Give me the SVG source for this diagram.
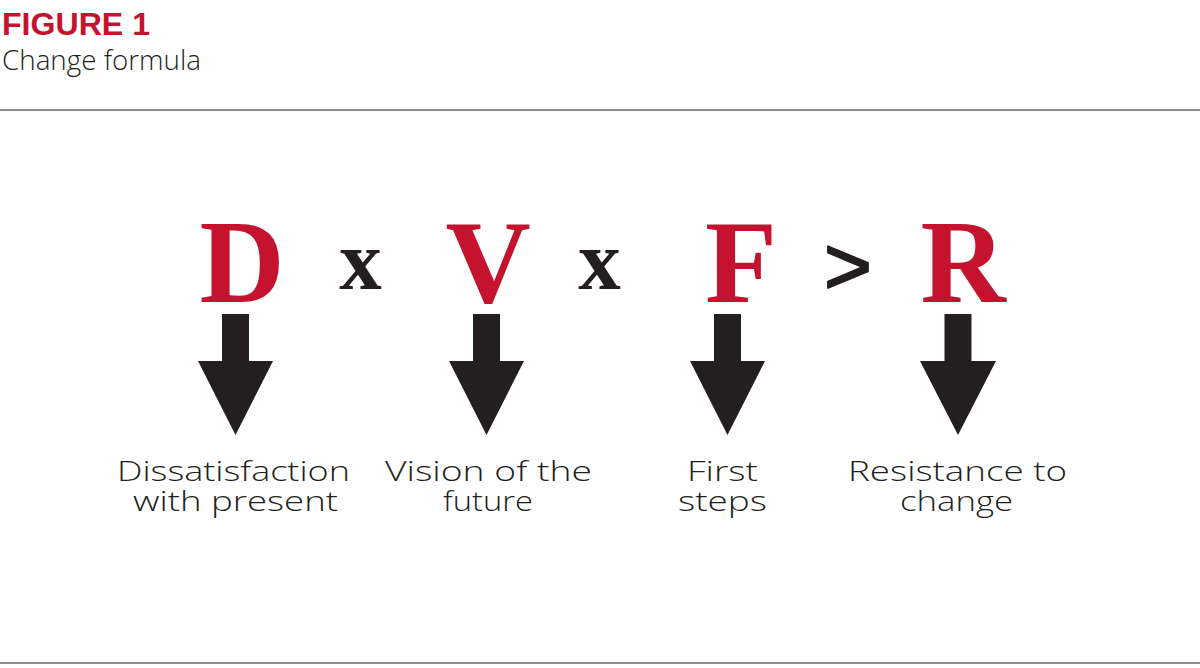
<svg xmlns="http://www.w3.org/2000/svg" width="1200" height="668" viewBox="0 0 1200 668">
<style>
.title{font-family:"Liberation Sans",Arial,sans-serif;font-weight:700;font-size:32px;fill:#c5122f}
.sub{font-family:"Open Sans","Liberation Sans",sans-serif;font-weight:300;font-size:27px;fill:#231f20}
.big{font-family:"Liberation Serif","Times New Roman",serif;font-weight:700;font-size:118px;fill:#c5122f;text-anchor:middle}
.op{font-family:"Liberation Serif","Times New Roman",serif;font-weight:700;font-size:85px;fill:#231f20;text-anchor:middle}
.gt{font-family:"Liberation Sans",Arial,sans-serif;font-size:82px;fill:#231f20;stroke:#231f20;stroke-width:2;stroke-linejoin:round;text-anchor:middle}
.lbl{font-family:"Open Sans","Liberation Sans",sans-serif;font-weight:300;font-size:28px;fill:#231f20;text-anchor:middle}
.rule{stroke:#8a8d8f;stroke-width:2}
.arr{fill:#231f20}
</style>
<rect width="1200" height="668" fill="#ffffff"/>
<g id="header">
<text class="title" x="2" y="35" textLength="148" lengthAdjust="spacingAndGlyphs">FIGURE 1</text>
<text class="sub" x="2" y="70" textLength="199" lengthAdjust="spacingAndGlyphs">Change formula</text>
<line class="rule" x1="0" y1="110" x2="1200" y2="110"/>
<line class="rule" x1="0" y1="663" x2="1200" y2="663"/>
</g>
<g id="node-D">
<text class="big" x="242" y="302">D</text>
<text class="lbl" x="233.5" y="481" textLength="233" lengthAdjust="spacingAndGlyphs">Dissatisfaction</text>
<text class="lbl" x="235.5" y="511" textLength="205" lengthAdjust="spacingAndGlyphs">with present</text>
</g>
<g id="op-x1"><text class="op" x="360.5" y="289">x</text></g>
<g id="node-V">
<text class="big" x="488" y="302">V</text>
<text class="lbl" x="488.5" y="481" textLength="207" lengthAdjust="spacingAndGlyphs">Vision of the</text>
<text class="lbl" x="488" y="511" textLength="90" lengthAdjust="spacingAndGlyphs">future</text>
</g>
<g id="op-x2"><text class="op" x="599.5" y="289">x</text></g>
<g id="node-F">
<text class="big" x="741" y="302">F</text>
<text class="lbl" x="722.5" y="481" textLength="71" lengthAdjust="spacingAndGlyphs">First</text>
<text class="lbl" x="722.5" y="511" textLength="89" lengthAdjust="spacingAndGlyphs">steps</text>
</g>
<g id="op-gt"><text class="gt" x="848" y="294">&gt;</text></g>
<g id="node-R">
<text class="big" x="963" y="302">R</text>
<text class="lbl" x="957.5" y="481" textLength="219" lengthAdjust="spacingAndGlyphs">Resistance to</text>
<text class="lbl" x="956.5" y="511" textLength="113" lengthAdjust="spacingAndGlyphs">change</text>
</g>
<g id="connectors">
<polygon class="arr" points="222,314 249,314 249,361 273,361 235.5,435 198,361 222,361"/>
<polygon class="arr" points="473,314 500,314 500,361 524,361 486.5,435 449,361 473,361"/>
<polygon class="arr" points="714,314 741,314 741,361 765,361 727.5,435 690,361 714,361"/>
<polygon class="arr" points="944.5,314 971.5,314 971.5,361 996,361 958,435 920,361 944.5,361"/>
</g>
</svg>
